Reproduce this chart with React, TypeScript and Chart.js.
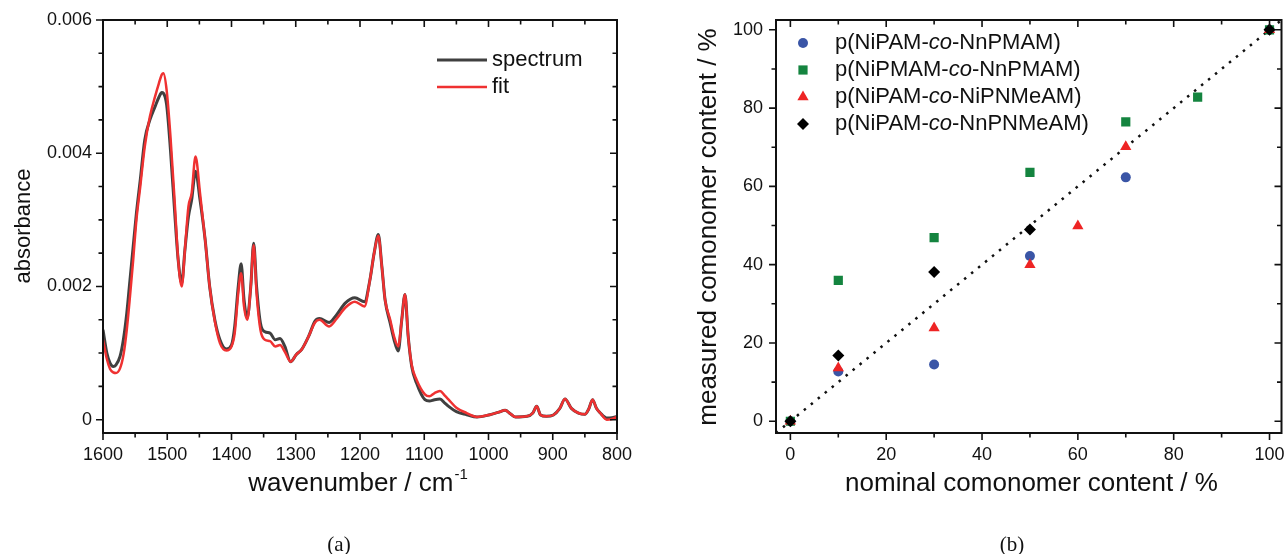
import React, { useEffect, useRef } from 'react';
import { Chart, registerables } from 'chart.js';

Chart.register(...registerables);

// ---------- Panel (a): IR spectrum ----------
const WAVENUMBERS = [
  1600, 1594, 1589, 1584, 1580, 1573.5, 1568, 1563, 1558, 1553, 1548, 1542, 1535, 1527, 1519, 1513,
  1508.5, 1506, 1501, 1495, 1488, 1483, 1477.5, 1472.5, 1467, 1462, 1456, 1449, 1441, 1434, 1426,
  1418, 1408, 1400, 1395, 1389.5, 1385, 1380.5, 1375.5, 1370, 1365.5, 1361, 1355, 1348, 1340, 1332,
  1324.5, 1317, 1308, 1299, 1291, 1280, 1270, 1263, 1248, 1236, 1223, 1208, 1193, 1184.5, 1178,
  1171.5, 1166, 1161, 1153, 1147, 1140.5, 1135, 1130, 1125, 1119.5, 1112, 1099, 1092, 1084, 1075.5,
  1068, 1062, 1050, 1034, 1018, 998, 985, 974, 966, 958, 940, 931, 925, 919, 910, 899, 889, 881, 871,
  860, 850, 844, 838, 832, 826, 816, 808, 800,
];
const SPECTRUM = [
  0.00135, 0.001, 0.00085, 0.0008, 0.00082, 0.00095, 0.00122, 0.0016, 0.0021, 0.0026, 0.0031, 0.0036,
  0.0042, 0.0045, 0.0047, 0.00484, 0.00491, 0.0049, 0.00473, 0.00405, 0.00305, 0.0024, 0.00205,
  0.00255, 0.00305, 0.0033, 0.00373, 0.0033, 0.0027, 0.002, 0.0015, 0.0012, 0.00106, 0.00112, 0.0014,
  0.002, 0.00234, 0.0018, 0.00153, 0.002, 0.00265, 0.002, 0.00145, 0.00132, 0.0013, 0.0012, 0.00122,
  0.0011, 0.00087, 0.00098, 0.00105, 0.00125, 0.00148, 0.00152, 0.00146, 0.00158, 0.00175, 0.00183,
  0.00177, 0.0021, 0.0025, 0.00278, 0.0023, 0.0018, 0.00145, 0.0012, 0.00103, 0.0015, 0.00188,
  0.00125, 0.0008, 0.00055, 0.0003, 0.00028, 0.0003, 0.00031, 0.00025, 0.0002, 0.00012, 0.000075,
  0.00004, 0.000075, 0.00011, 0.00014, 0.00009, 0.00004, 0.00005, 0.0001, 0.0002, 0.00007, 0.00005,
  0.00007, 0.00017, 0.00031, 0.00017, 0.0001, 0.00008, 0.00016, 0.0003, 0.00017, 0.0001, 0.000025,
  0.00003, 0.00005,
];
const FIT = [
  0.0012, 0.00091, 0.00076, 0.00071, 0.0007, 0.00077, 0.00098, 0.00135, 0.00185, 0.0024, 0.003, 0.0035,
  0.0041, 0.00455, 0.00485, 0.00505, 0.00518, 0.0052, 0.00495, 0.00425, 0.0032, 0.0024, 0.002,
  0.00255, 0.0032, 0.0034, 0.00395, 0.0034, 0.0027, 0.002, 0.00148, 0.00115, 0.00104, 0.0011, 0.0013,
  0.0019, 0.0022, 0.0017, 0.0015, 0.002, 0.00262, 0.0019, 0.00135, 0.0012, 0.00118, 0.0011, 0.00112,
  0.00102, 0.00087, 0.00098, 0.00105, 0.00125, 0.00146, 0.0015, 0.0014, 0.00152, 0.00168, 0.00177,
  0.0017, 0.0021, 0.0025, 0.00276, 0.0023, 0.0018, 0.0015, 0.00125, 0.0011, 0.0015, 0.00188, 0.00125,
  0.00082, 0.0006, 0.00038, 0.00035, 0.0004, 0.00043, 0.00036, 0.0003, 0.00018, 0.0001, 0.00004,
  0.000075, 0.00011, 0.00014, 0.00009, 0.00004, 0.00005, 0.0001, 0.0002, 0.00007, 0.00005, 0.00007,
  0.00017, 0.00031, 0.00017, 0.0001, 0.00008, 0.00016, 0.0003, 0.00017, 0.0001, 0.0, 0.00001, 0.00004,
];
const A_X_TICKS = [1600, 1500, 1400, 1300, 1200, 1100, 1000, 900, 800];
const A_X_MINOR = [1550, 1450, 1350, 1250, 1150, 1050, 950, 850];
const A_Y_TICKS = [0, 0.002, 0.004, 0.006];
const A_Y_LABELS = ['0', '0.002', '0.004', '0.006'];
const A_Y_MINOR = [0.0005, 0.001, 0.0015, 0.0025, 0.003, 0.0035, 0.0045, 0.005, 0.0055];
const A_LEGEND = ['spectrum', 'fit'];

// ---------- Panel (b): comonomer content ----------
const B_SERIES_NAMES = ['NnPMAM', 'NnPMAM', 'NiPNMeAM', 'NnPNMeAM'];
const B_SERIES_PREFIX = ['NiPAM', 'NiPMAM', 'NiPAM', 'NiPAM'];
const BLUE_X = [0, 10, 30, 50, 70, 100];
const BLUE_Y = [0, 12.7, 14.5, 42.2, 62.3, 100];
const GREEN_X = [0, 10, 30, 50, 70, 85, 100];
const GREEN_Y = [0, 36.0, 46.9, 63.6, 76.5, 82.8, 100];
const RED_X = [0, 10, 30, 50, 60, 70, 100];
const RED_Y = [0, 13.6, 23.8, 40.0, 49.9, 70.1, 100];
const BLACK_X = [0, 10, 30, 50, 100];
const BLACK_Y = [0, 16.8, 38.1, 49.0, 100];
const IDENTITY_LINE = [-3, 103];
const B_TICKS = [0, 20, 40, 60, 80, 100];
const B_MINOR = [10, 30, 50, 70, 90];

const FONT = '"Liberation Sans", Arial, Helvetica, sans-serif';
const INK = '#111111';
const GRAY = '#404040';
const RED_LINE = '#ef3131';
const BLUE = '#3a55a6';
const GREEN = '#14843f';
const RED = '#ee2424';
const BLACK = '#000000';

type Mk = 'circle' | 'rect' | 'triangle' | 'diamond';

function drawMarker(ctx: CanvasRenderingContext2D, kind: Mk, x: number, y: number, color: string) {
  ctx.save();
  ctx.fillStyle = color;
  ctx.beginPath();
  if (kind === 'circle') {
    ctx.arc(x, y, 5, 0, Math.PI * 2);
  } else if (kind === 'rect') {
    ctx.rect(x - 4.6, y - 4.6, 9.2, 9.2);
  } else if (kind === 'triangle') {
    const r = 6.5;
    for (let k = 0; k < 3; k++) {
      const a = (k * 2 * Math.PI) / 3;
      const px = x + Math.sin(a) * r;
      const py = y - Math.cos(a) * r;
      if (k === 0) ctx.moveTo(px, py);
      else ctx.lineTo(px, py);
    }
    ctx.closePath();
  } else {
    const r = 6;
    ctx.moveTo(x, y - r);
    ctx.lineTo(x + r, y);
    ctx.lineTo(x, y + r);
    ctx.lineTo(x - r, y);
    ctx.closePath();
  }
  ctx.fill();
  ctx.restore();
}

function frameTicks(
  chart: any,
  xMaj: number[],
  xMin: number[],
  yMaj: number[],
  yMin: number[],
) {
  const { ctx, chartArea } = chart;
  const xs = chart.scales.x;
  const ys = chart.scales.y;
  const { left, right, top, bottom } = chartArea;
  ctx.save();
  ctx.strokeStyle = INK;
  ctx.lineWidth = 1.6;
  const tick = (vals: number[], len: number) => {
    for (const v of vals) {
      const px = xs.getPixelForValue(v);
      ctx.beginPath();
      ctx.moveTo(px, bottom);
      ctx.lineTo(px, bottom + len);
      ctx.moveTo(px, top);
      ctx.lineTo(px, top + len);
      ctx.stroke();
    }
  };
  const tickY = (vals: number[], len: number) => {
    for (const v of vals) {
      const py = ys.getPixelForValue(v);
      ctx.beginPath();
      ctx.moveTo(left, py);
      ctx.lineTo(left - len, py);
      ctx.moveTo(right, py);
      ctx.lineTo(right - len, py);
      ctx.stroke();
    }
  };
  tick(xMaj, 7);
  tick(xMin, 4.5);
  tickY(yMaj, 7);
  tickY(yMin, 4.5);
  ctx.lineWidth = 2;
  ctx.strokeRect(left, top, right - left, bottom - top);
  ctx.restore();
}

function leftConfig(): any {
  const decor = {
    id: 'decorA',
    afterDraw(chart: any) {
      frameTicks(chart, A_X_TICKS, A_X_MINOR, A_Y_TICKS, A_Y_MINOR);
      const ctx: CanvasRenderingContext2D = chart.ctx;
      ctx.save();
      ctx.fillStyle = INK;
      // y title
      ctx.save();
      ctx.translate(29.5, 226);
      ctx.rotate(-Math.PI / 2);
      ctx.font = `22px ${FONT}`;
      ctx.textAlign = 'center';
      ctx.textBaseline = 'alphabetic';
      ctx.fillText('absorbance', 0, 0);
      ctx.restore();
      // x title with superscript
      const main = 'wavenumber / cm';
      const sup = '-1';
      ctx.font = `26px ${FONT}`;
      const w1 = ctx.measureText(main).width;
      ctx.font = `15px ${FONT}`;
      const w2 = ctx.measureText(sup).width;
      const x0 = 358 - (w1 + w2 + 1) / 2;
      ctx.textAlign = 'left';
      ctx.textBaseline = 'alphabetic';
      ctx.font = `26px ${FONT}`;
      ctx.fillText(main, x0, 491);
      ctx.font = `15px ${FONT}`;
      ctx.fillText(sup, x0 + w1 + 1, 479);
      // legend
      const rows = [60, 87];
      const colors = [GRAY, RED_LINE];
      const widths = [3, 2.5];
      rows.forEach((ry, i) => {
        ctx.strokeStyle = colors[i];
        ctx.lineWidth = widths[i];
        ctx.beginPath();
        ctx.moveTo(437, ry);
        ctx.lineTo(487, ry);
        ctx.stroke();
        ctx.fillStyle = INK;
        ctx.font = `22px ${FONT}`;
        ctx.textBaseline = 'middle';
        ctx.fillText(A_LEGEND[i], 492, ry);
      });
      ctx.restore();
    },
  };
  return {
    type: 'line',
    data: {
      datasets: [
        {
          label: A_LEGEND[1],
          data: WAVENUMBERS.map((w, i) => ({ x: w, y: FIT[i] })),
          borderColor: RED_LINE,
          borderWidth: 2.5,
          pointRadius: 0,
          cubicInterpolationMode: 'monotone',
          fill: false,
          order: 0,
        },
        {
          label: A_LEGEND[0],
          data: WAVENUMBERS.map((w, i) => ({ x: w, y: SPECTRUM[i] })),
          borderColor: GRAY,
          borderWidth: 3,
          pointRadius: 0,
          cubicInterpolationMode: 'monotone',
          fill: false,
          order: 1,
        },
      ],
    },
    options: {
      animation: false,
      responsive: false,
      devicePixelRatio: 1,
      layout: { padding: { top: 20, right: 23, left: 0, bottom: 0 } },
      plugins: { legend: { display: false }, tooltip: { enabled: false } },
      scales: {
        x: {
          type: 'linear',
          reverse: true,
          min: 800,
          max: 1600,
          grid: { display: false, drawTicks: false },
          border: { display: false },
          ticks: {
            font: { family: FONT, size: 18 },
            color: INK,
            padding: 11,
            autoSkip: false,
            maxRotation: 0,
            callback: (v: number) => String(v),
          },
          afterBuildTicks: (s: any) => {
            s.ticks = A_X_TICKS.map((v) => ({ value: v }));
          },
          afterFit: (s: any) => {
            s.height = 121;
            s.paddingLeft = 0;
            s.paddingRight = 0;
          },
        },
        y: {
          type: 'linear',
          min: -0.0002,
          max: 0.006,
          grid: { display: false, drawTicks: false },
          border: { display: false },
          ticks: {
            font: { family: FONT, size: 18 },
            color: INK,
            padding: 11,
            autoSkip: false,
            callback: (v: number) => {
              const i = A_Y_TICKS.findIndex((t) => Math.abs(t - v) < 1e-9);
              return i >= 0 ? A_Y_LABELS[i] : '';
            },
          },
          afterBuildTicks: (s: any) => {
            s.ticks = A_Y_TICKS.map((v) => ({ value: v }));
          },
          afterFit: (s: any) => {
            s.width = 103;
            s.paddingTop = 0;
            s.paddingBottom = 0;
          },
        },
      },
    },
    plugins: [decor],
  };
}

function rightConfig(): any {
  const markers: Mk[] = ['circle', 'rect', 'triangle', 'diamond'];
  const mColors = [BLUE, GREEN, RED, BLACK];
  const decor = {
    id: 'decorB',
    afterDraw(chart: any) {
      frameTicks(chart, B_TICKS, B_MINOR, B_TICKS, B_MINOR);
      const ctx: CanvasRenderingContext2D = chart.ctx;
      ctx.save();
      ctx.fillStyle = INK;
      // y title
      ctx.save();
      ctx.translate(76, 227);
      ctx.rotate(-Math.PI / 2);
      ctx.font = `26px ${FONT}`;
      ctx.textAlign = 'center';
      ctx.textBaseline = 'alphabetic';
      ctx.fillText('measured comonomer content / %', 0, 0);
      ctx.restore();
      // x title
      ctx.font = `26px ${FONT}`;
      ctx.textAlign = 'center';
      ctx.textBaseline = 'alphabetic';
      ctx.fillText('nominal comonomer content / %', 391.5, 491);
      // legend
      const rows = [43, 70, 97, 124];
      ctx.textAlign = 'left';
      ctx.textBaseline = 'middle';
      rows.forEach((ry, i) => {
        drawMarker(ctx, markers[i], 163, ry, mColors[i]);
        let x = 195;
        const parts: [string, boolean][] = [
          [`p(${B_SERIES_PREFIX[i]}-`, false],
          ['co', true],
          [`-${B_SERIES_NAMES[i]})`, false],
        ];
        ctx.fillStyle = INK;
        for (const [t, it] of parts) {
          ctx.font = `${it ? 'italic ' : ''}22px ${FONT}`;
          ctx.fillText(t, x, ry);
          x += ctx.measureText(t).width;
        }
      });
      ctx.restore();
    },
  };
  const pts = (xs: number[], ys: number[]) => xs.map((x, i) => ({ x, y: ys[i] }));
  return {
    type: 'scatter',
    data: {
      datasets: [
        {
          label: 'identity',
          data: IDENTITY_LINE.map((v) => ({ x: v, y: v })),
          showLine: true,
          borderColor: INK,
          borderWidth: 2.5,
          borderDash: [2.5, 6.5],
          pointRadius: 0,
          order: 10,
        },
        {
          label: 'p(NiPAM-co-NnPMAM)',
          data: pts(BLUE_X, BLUE_Y),
          pointStyle: 'circle',
          pointRadius: 5,
          backgroundColor: BLUE,
          borderColor: BLUE,
          borderWidth: 0,
          order: 4,
        },
        {
          label: 'p(NiPMAM-co-NnPMAM)',
          data: pts(GREEN_X, GREEN_Y),
          pointStyle: 'rect',
          pointRadius: 6.5,
          backgroundColor: GREEN,
          borderColor: GREEN,
          borderWidth: 0,
          order: 3,
        },
        {
          label: 'p(NiPAM-co-NiPNMeAM)',
          data: pts(RED_X, RED_Y),
          pointStyle: 'triangle',
          pointRadius: 6.5,
          backgroundColor: RED,
          borderColor: RED,
          borderWidth: 0,
          order: 2,
        },
        {
          label: 'p(NiPAM-co-NnPNMeAM)',
          data: pts(BLACK_X, BLACK_Y),
          pointStyle: 'rectRot',
          pointRadius: 6,
          backgroundColor: BLACK,
          borderColor: BLACK,
          borderWidth: 0,
          order: 1,
        },
      ],
    },
    options: {
      animation: false,
      responsive: false,
      devicePixelRatio: 1,
      layout: { padding: { top: 20, right: 2, left: 0, bottom: 0 } },
      plugins: { legend: { display: false }, tooltip: { enabled: false } },
      scales: {
        x: {
          type: 'linear',
          min: -3,
          max: 102.5,
          grid: { display: false, drawTicks: false },
          border: { display: false },
          ticks: {
            font: { family: FONT, size: 18 },
            color: INK,
            padding: 11,
            autoSkip: false,
            maxRotation: 0,
            callback: (v: number) => String(v),
          },
          afterBuildTicks: (s: any) => {
            s.ticks = B_TICKS.map((v) => ({ value: v }));
          },
          afterFit: (s: any) => {
            s.height = 121;
            s.paddingLeft = 0;
            s.paddingRight = 0;
          },
        },
        y: {
          type: 'linear',
          min: -3,
          max: 102.5,
          grid: { display: false, drawTicks: false },
          border: { display: false },
          ticks: {
            font: { family: FONT, size: 18 },
            color: INK,
            padding: 13,
            autoSkip: false,
            callback: (v: number) => String(v),
          },
          afterBuildTicks: (s: any) => {
            s.ticks = B_TICKS.map((v) => ({ value: v }));
          },
          afterFit: (s: any) => {
            s.width = 136;
            s.paddingTop = 0;
            s.paddingBottom = 0;
          },
        },
      },
    },
    plugins: [decor],
  };
}

const captionStyle = (x: number): React.CSSProperties => ({
  position: 'absolute',
  left: x,
  top: 544,
  transform: 'translate(-50%, -50%)',
  fontFamily: '"Liberation Serif", "DejaVu Serif", serif',
  fontSize: 21,
  lineHeight: 1,
  color: INK,
  whiteSpace: 'nowrap',
});

export default function App() {
  const leftRef = useRef<HTMLCanvasElement>(null);
  const rightRef = useRef<HTMLCanvasElement>(null);
  useEffect(() => {
    const c1 = new Chart(leftRef.current as HTMLCanvasElement, leftConfig());
    const c2 = new Chart(rightRef.current as HTMLCanvasElement, rightConfig());
    return () => {
      c1.destroy();
      c2.destroy();
    };
  }, []);
  return (
    <div
      style={{
        position: 'fixed',
        left: 0,
        top: 0,
        width: 1288,
        height: 554,
        background: '#ffffff',
        overflow: 'hidden',
      }}
    >
      <canvas
        ref={leftRef}
        width={640}
        height={554}
        style={{ position: 'absolute', left: 0, top: 0, width: 640, height: 554 }}
      />
      <canvas
        ref={rightRef}
        width={648}
        height={554}
        style={{ position: 'absolute', left: 640, top: 0, width: 648, height: 554 }}
      />
      <div style={captionStyle(339)}>(a)</div>
      <div style={captionStyle(1012)}>(b)</div>
    </div>
  );
}
